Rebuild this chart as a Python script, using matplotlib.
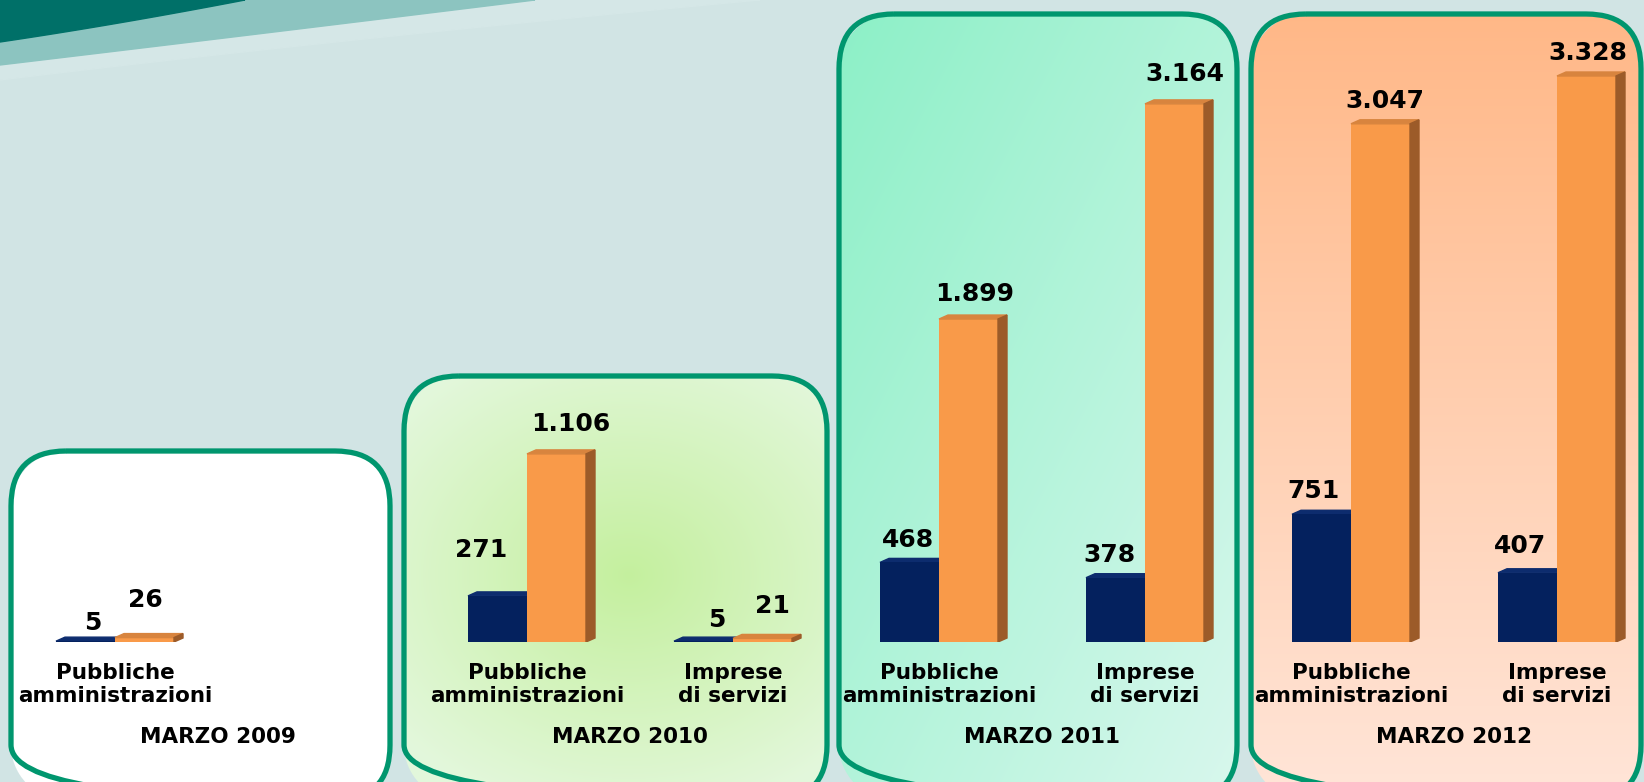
#Import MatPlotLib and Numpy
import numpy as np
import matplotlib
matplotlib.use("Agg")
from matplotlib import pyplot as plt
from matplotlib.patches import FancyBboxPatch, Polygon

#Chart data
year_labels = ["MARZO 2009", "MARZO 2010", "MARZO 2011", "MARZO 2012"]
cat_labels = [["Pubbliche", "amministrazioni"], ["Imprese", "di servizi"]]
group_year = [0, 1, 1, 2, 2, 3, 3]
group_cat = [0, 0, 1, 0, 1, 0, 1]
navy_vals = [5, 271, 5, 468, 378, 751, 407]
orange_vals = [26, 1106, 21, 1899, 3164, 3047, 3328]

#Hand placed label nudges of the original slide (pixels)
navy_lab_dx = [7, -16, 13, -2, -6, -8, -7]
navy_lab_gap = [11, 39, 14, 15, 16, 16, 20]
orange_lab_dx = [1, 14, 10, 6, 10, 4, 1]
orange_lab_gap = [31, 23, 25, 18, 23, 16, 16]

#Colours
NAVY = "#04215e"
NAVY_TOP = "#0d2c6e"
ORANGE = "#f99a49"
ORANGE_TOP = "#d8843e"
ORANGE_SIDE = "#9c5b29"
BORDER = "#00966e"
BG = "#d1e4e4"

W, H = 1644, 782
fig = plt.figure(figsize=(W / 100, H / 100), dpi=100)

#Background layer in pixel coordinates
bg = fig.add_axes([0, 0, 1, 1])
bg.add_patch(plt.Rectangle((0, 0), W, H, color=BG, zorder=0))


def bezier(p0, p1, p2, n=60):
	t = np.linspace(0, 1, n)[:, None]
	return (1 - t) ** 2 * np.array(p0) + 2 * (1 - t) * t * np.array(p1) + t ** 2 * np.array(p2)


#Wave at the top left
faint = bezier((0, 80), (330, 40), (760, 0))
bg.add_patch(Polygon(np.vstack([[[0, 0]], faint, [[760, 0]]]), color="#d5e7e7", zorder=1))
light = bezier((0, 65), (260, 34), (535, 0))
bg.add_patch(Polygon(np.vstack([[[0, 0]], light, [[535, 0]]]), color="#8cc4c0", zorder=2))
dark = bezier((0, 42), (115, 25), (245, 0))
bg.add_patch(Polygon(np.vstack([[[0, 0]], dark, [[245, 0]]]), color="#007068", zorder=3))

#Rounded panels, one per year (left, top, right) in pixels
panel_box = [(11, 451, 390), (404, 376, 827), (839, 14, 1237), (1251, 14, 1641)]
PANEL_BOTTOM = 800
RADIUS = 55


def panel_image(k, w, h):
	yy, xx = np.mgrid[0:h, 0:w] + 0.5
	u = xx / w
	v = yy / h
	if k == 0:
		c0, c1, t = (1, 1, 1), (1, 1, 1), v
	elif k == 1:
		c0 = (0.77, 0.94, 0.62)
		c1 = (0.89, 0.97, 0.86)
		t = np.clip(np.hypot(u - 0.53, (v - 0.47) * 1.2) / 0.7, 0, 1)
	elif k == 2:
		c0 = (0.55, 0.94, 0.78)
		c1 = (0.85, 0.97, 0.93)
		t = np.clip((u + v) / 2, 0, 1)
	else:
		c0 = (1.0, 0.72, 0.53)
		c1 = (1.0, 0.90, 0.85)
		t = v
	rgb = np.array(c0) * (1 - t[..., None]) + np.array(c1) * t[..., None]
	#rounded rectangle mask
	ex = np.maximum(np.maximum(RADIUS - xx, xx - (w - RADIUS)), 0)
	ey = np.maximum(np.maximum(RADIUS - yy, yy - (h - RADIUS)), 0)
	alpha = np.clip(RADIUS + 0.5 - np.hypot(ex, ey), 0, 1)
	return np.dstack([rgb, alpha])


for k, (x0, top, x1) in enumerate(panel_box):
	w = x1 - x0
	h = PANEL_BOTTOM - top
	bg.imshow(panel_image(k, w, h), extent=(x0, x1, PANEL_BOTTOM, top),
		aspect="auto", interpolation="nearest", zorder=5)
	bg.add_patch(FancyBboxPatch((x0, top), w, h,
		boxstyle=f"round,pad=0,rounding_size={RADIUS}",
		facecolor="none", edgecolor=BORDER, linewidth=3.8, zorder=6))
bg.set_xlim(0, W)
bg.set_ylim(H, 0)
bg.axis("off")

#Bar layer: x in slots, y in values
base_px = 642
ppu = 566 / 3328
slot_px = 206
left_px = 115
ax = fig.add_axes([0, (H - base_px) / H, 1, base_px / H])
ax.patch.set_alpha(0)
ax.axis("off")
ax.set_xlim(-left_px / slot_px, (W - left_px) / slot_px)
ax.set_ylim(0, base_px / ppu)

bw = 59 / slot_px
dx = 9 / slot_px
dy = 4 / ppu
val_font = dict(fontsize=18, fontweight="bold", family="DejaVu Sans", color="black")
lab_font = dict(fontsize=15.5, fontweight="bold", family="DejaVu Sans", color="black")


def fmt(v):
	return f"{v:,}".replace(",", ".")


for i in range(len(navy_vals)):
	s = 2 * group_year[i] + group_cat[i]
	hn = navy_vals[i]
	ho = orange_vals[i]

	ax.bar(s - bw / 2, hn, width=bw, color=NAVY, zorder=2)
	ax.add_patch(Polygon([(s - bw, hn), (s, hn), (s + dx, hn + dy), (s - bw + dx, hn + dy)],
		color=NAVY_TOP, zorder=1.9))

	ax.bar(s + bw / 2, ho, width=bw, color=ORANGE, zorder=3)
	ax.add_patch(Polygon([(s, ho), (s + bw, ho), (s + bw + dx, ho + dy), (s + dx, ho + dy)],
		color=ORANGE_TOP, zorder=3))
	ax.add_patch(Polygon([(s + bw, 0), (s + bw, ho), (s + bw + dx, ho + dy), (s + bw + dx, dy)],
		color=ORANGE_SIDE, zorder=3))

	ax.annotate(fmt(hn), xy=(s - bw / 2, hn), xytext=(navy_lab_dx[i], navy_lab_gap[i]),
		textcoords="offset pixels", ha="center", va="baseline", **val_font)
	ax.annotate(fmt(ho), xy=(s + bw / 2, ho), xytext=(orange_lab_dx[i], orange_lab_gap[i]),
		textcoords="offset pixels", ha="center", va="baseline", **val_font)

	line1, line2 = cat_labels[group_cat[i]]
	ax.annotate(line1, xy=(s, 0), xytext=(0, -37), textcoords="offset pixels",
		ha="center", va="baseline", annotation_clip=False, **lab_font)
	ax.annotate(line2, xy=(s, 0), xytext=(0, -60), textcoords="offset pixels",
		ha="center", va="baseline", annotation_clip=False, **lab_font)

for k, label in enumerate(year_labels):
	ax.annotate(label, xy=(2 * k + 0.5, 0), xytext=(0, -101), textcoords="offset pixels",
		ha="center", va="baseline", annotation_clip=False, **lab_font)

plt.savefig("out.png", dpi=100)
